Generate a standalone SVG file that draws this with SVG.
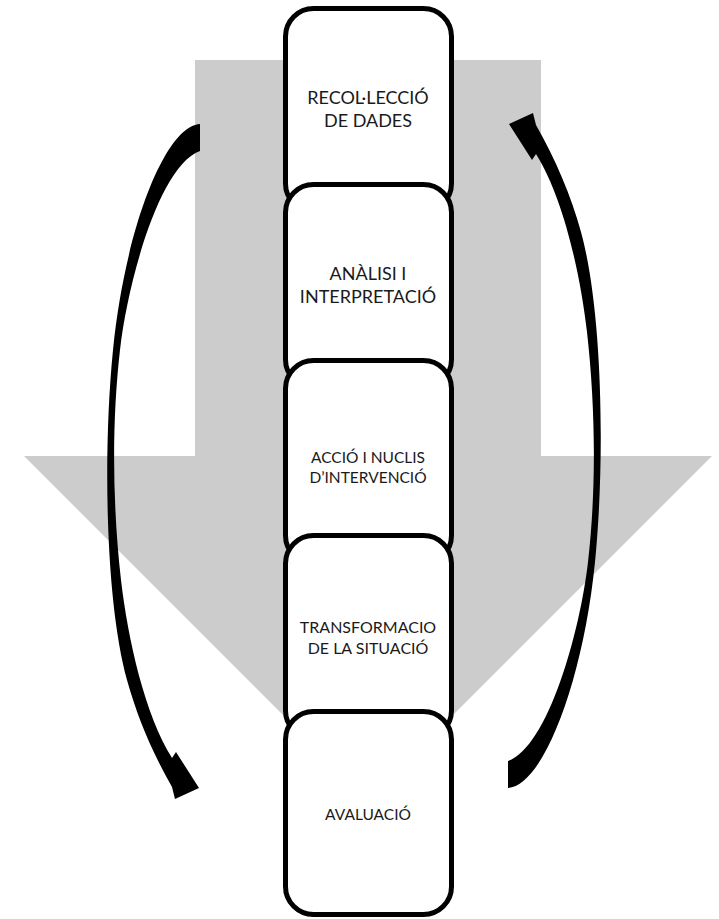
<svg xmlns="http://www.w3.org/2000/svg" width="719" height="919" viewBox="0 0 719 919">
<style>
.bg{fill:#ffffff}
.big{fill:#cccccc}
.box{fill:#ffffff;stroke:#000000;stroke-width:5}
.curve{fill:#000000}
.t{font-family:Lato,"Open Sans","Liberation Sans",sans-serif;fill:#1a1a1a;text-anchor:middle}
</style>
<rect class="bg" x="0" y="0" width="719" height="919"/>
<g id="flow-arrow">
<polygon class="big" points="195,60 541,60 541,456 712,456 368,800 24,456 195,456"/>
</g>
<g id="connectors">
<path id="loop-left" class="curve" d="M200,124 C165,126 125,230 113,350 C103,450 105,600 127,680 C137,716 152,752 172,787 L175,799 L199,788 L176,752 L172,758 C145,715 128,640 121,580 C112,500 112,420 120,350 C128,280 160,165 200,151 Z"/>
<path id="loop-right" class="curve" transform="rotate(180 354 456)" d="M200,124 C165,126 125,230 113,350 C103,450 105,600 127,680 C137,716 152,752 172,787 L175,799 L199,788 L176,752 L172,758 C145,715 128,640 121,580 C112,500 112,420 120,350 C128,280 160,165 200,151 Z"/>
</g>
<g id="node-recollecio">
<rect class="box" x="285.5" y="8.5" width="166" height="203" rx="28" ry="28"/>
<text class="t" font-size="18" x="368" y="104">RECOL·LECCIÓ</text>
<text class="t" font-size="18" x="368" y="127">DE DADES</text>
</g>
<g id="node-analisi">
<rect class="box" x="285.5" y="184.5" width="166" height="203" rx="28" ry="28"/>
<text class="t" font-size="18" x="368" y="280">ANÀLISI I</text>
<text class="t" font-size="18" x="368" y="303">INTERPRETACIÓ</text>
</g>
<g id="node-accio">
<rect class="box" x="285.5" y="360.5" width="166" height="203" rx="28" ry="28"/>
<text class="t" font-size="15.5" x="368" y="463">ACCIÓ I NUCLIS</text>
<text class="t" font-size="15.5" x="368" y="483">D’INTERVENCIÓ</text>
</g>
<g id="node-transformacio">
<rect class="box" x="285.5" y="535.5" width="166" height="203" rx="28" ry="28"/>
<text class="t" font-size="16" x="368" y="633">TRANSFORMACIO</text>
<text class="t" font-size="16" x="368" y="654">DE LA SITUACIÓ</text>
</g>
<g id="node-avaluacio">
<rect class="box" x="285.5" y="711.5" width="166" height="203" rx="28" ry="28"/>
<text class="t" font-size="15.5" x="368" y="820">AVALUACIÓ</text>
</g>
</svg>
